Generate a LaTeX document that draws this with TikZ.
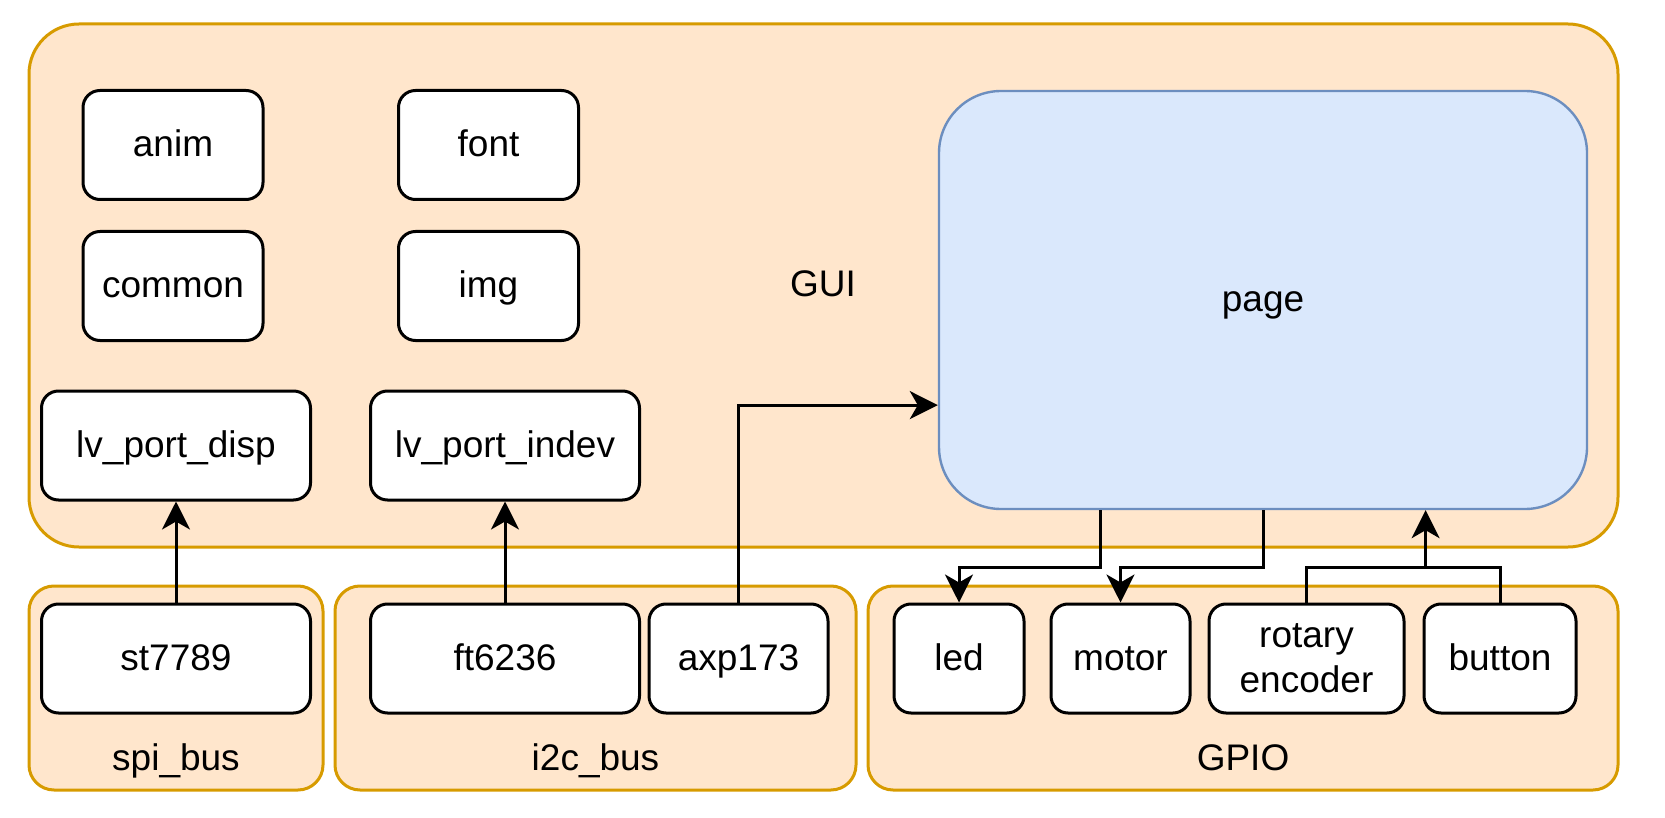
\documentclass[tikz,border=0pt]{standalone}
\usepackage{fontspec}
\setmainfont{Liberation Sans}
\usetikzlibrary{arrows.meta,calc,fit}

\definecolor{grpfill}{HTML}{FFE6CC}
\definecolor{grpdraw}{HTML}{D79B00}
\definecolor{pagefill}{HTML}{DAE8FC}
\definecolor{pagedraw}{HTML}{6C8EBF}

\begin{document}
\begin{tikzpicture}[x=0.5pt,y=-0.5pt,
		txt/.style={font=\fontsize{18.5}{22.5}\selectfont},
		group/.style={draw=grpdraw, fill=grpfill, line width=1.5pt, rounded corners=12.5pt, inner sep=0pt},
		module/.style={txt, draw=black, fill=white, line width=1.5pt, rounded corners=8.5pt, inner sep=0pt, minimum height=54.5pt, align=center, text height=13.3pt, text depth=1.3pt},
		pagebox/.style={txt, draw=pagedraw, fill=pagefill, line width=1.2pt, rounded corners=31pt, inner sep=0pt, minimum width=324pt, minimum height=209pt, text height=13.3pt, text depth=1.3pt},
		link/.style={line width=1.5pt},
		arr/.style={link, -{Stealth[length=14pt,width=14pt,inset=4pt]}}
	]
	\useasboundingbox (0,0) rectangle (1665,818);

	% groups
	\node[group, fit={(29,24) (1618,547)}, rounded corners=25pt] (gui) {};
	\node[group, fit={(29,586) (323,790)}] (spibus) {};
	\node[group, fit={(335,586) (856,790)}] (i2cbus) {};
	\node[group, fit={(868,586) (1618,790)}] (gpio) {};
	\node[txt, anchor=base] (guilabel) at (823,297) {GUI};
	\node[txt, anchor=base] (spilabel) at (176,770) {spi\_bus};
	\node[txt, anchor=base] (i2clabel) at (595.5,770) {i2c\_bus};
	\node[txt, anchor=base] (gpiolabel) at (1243,770) {GPIO};

	% GUI modules
	\node[module, minimum width=90pt] (anim) at (173,145) {anim};
	\node[module, minimum width=90pt] (common) at (173,286) {common};
	\node[module, minimum width=90pt] (font) at (488.5,145) {font};
	\node[module, minimum width=90pt] (img) at (488.5,286) {img};
	\node[module, minimum width=134.5pt] (lvdisp) at (176,445.5) {lv\_port\_disp};
	\node[module, minimum width=134.5pt] (lvindev) at (505,445.5) {lv\_port\_indev};
	\node[pagebox] (page) at (1263,300) {page};

	% drivers
	\node[module, minimum width=134.5pt] (st7789) at (176,658.5) {st7789};
	\node[module, minimum width=134.5pt] (ft6236) at (505,658.5) {ft6236};
	\node[module, minimum width=89.5pt] (axp173) at (738.5,658.5) {axp173};
	\node[module, minimum width=65pt] (led) at (959,658.5) {led};
	\node[module, minimum width=69.5pt] (motor) at (1120.5,658.5) {motor};
	\node[module, minimum width=97.5pt, text height=, text depth=] (rotary) at (1306.5,658.5) {rotary\\encoder};
	\node[module, minimum width=76pt] (button) at (1500,658.5) {button};

	% connections
	\coordinate (bend) at (0,567);
	\coordinate (pagein) at ($(page.south west)!.25!(page.north west)$);
	\coordinate (tapled) at ($(page.south west)!.25!(page.south east)$);
	\coordinate (tapin) at ($(page.south west)!.75!(page.south east)$);

	\draw[arr] (st7789.north) -- (lvdisp.south);
	\draw[arr] (ft6236.north) -- (lvindev.south);
	\draw[arr] (axp173.north) |- (pagein);
	\draw[arr] (tapled) -- (tapled |- bend) -| (led.north);
	\draw[arr] (page.south) -- (page.south |- bend) -| (motor.north);
	\draw[link] (rotary.north) |- (tapin |- bend) -| (button.north);
	\draw[arr] (tapin |- bend) -- (tapin);
\end{tikzpicture}
\end{document}
